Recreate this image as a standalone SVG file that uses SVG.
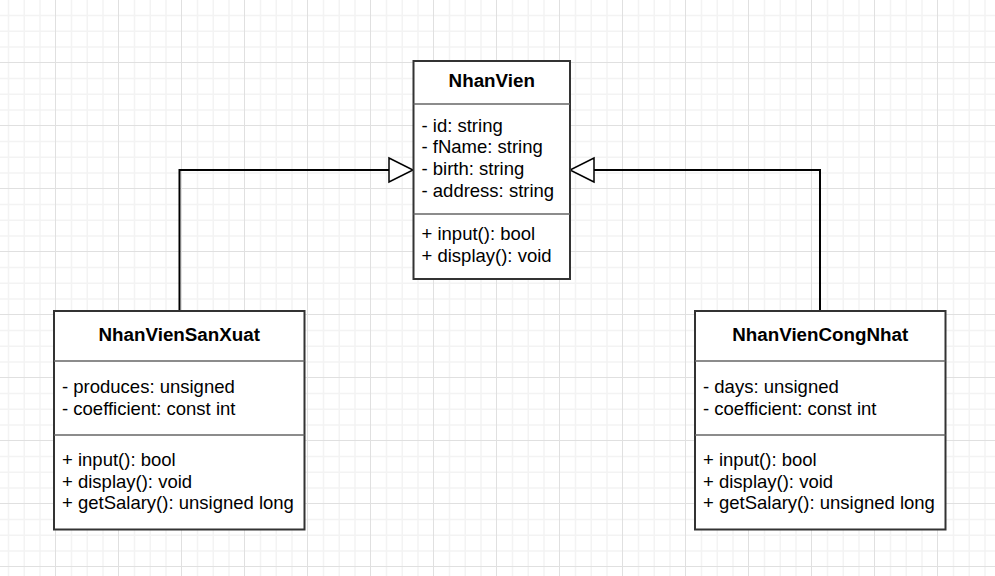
<svg xmlns="http://www.w3.org/2000/svg" width="995" height="576" viewBox="0 0 995 576">
<defs>
<pattern id="grid" x="-8" y="-1" width="63" height="63" patternUnits="userSpaceOnUse">
<rect x="0" y="0" width="63" height="63" fill="#ffffff"/>
<rect x="15.75" y="0" width="1.5" height="63" fill="#f3f3f3"/>
<rect x="31.5" y="0" width="1.5" height="63" fill="#f3f3f3"/>
<rect x="47.25" y="0" width="1.5" height="63" fill="#f3f3f3"/>
<rect x="0" y="15.75" width="63" height="1.5" fill="#f3f3f3"/>
<rect x="0" y="31.5" width="63" height="1.5" fill="#f3f3f3"/>
<rect x="0" y="47.25" width="63" height="1.5" fill="#f3f3f3"/>
<rect x="0" y="0" width="1" height="63" fill="#e0e0e0"/>
<rect x="0" y="0" width="63" height="1" fill="#e0e0e0"/>
</pattern>
<marker id="inherit" viewBox="-1 -1 26 26" refX="24" refY="12" markerWidth="26" markerHeight="26" markerUnits="userSpaceOnUse" orient="auto" overflow="visible">
<path d="M0,0 L24,12 L0,24 Z" fill="#ffffff" stroke="#000000" stroke-width="1.5"/>
</marker>
<style>
.box{fill:#ffffff;stroke:#333333;stroke-width:2}
.sep{stroke:#666666;stroke-width:1.5}
.t{font-family:"Liberation Sans",Arial,sans-serif;font-size:18.5px;fill:#000000}
.title{font-weight:bold;font-size:18.8px;text-anchor:middle}
.edge{fill:none;stroke:#000000;stroke-width:2}
</style>
</defs>
<rect x="0" y="0" width="995" height="576" fill="url(#grid)"/>
<g id="connectors">
<path class="edge" d="M179.5,311 V170 H413" marker-end="url(#inherit)"/>
<path class="edge" d="M820,311 V170 H570" marker-end="url(#inherit)"/>
</g>
<g id="NhanVien">
<rect class="box" x="413.5" y="61" width="156.5" height="218"/>
<line class="sep" x1="413.5" y1="104" x2="570" y2="104"/>
<line class="sep" x1="413.5" y1="214" x2="570" y2="214"/>
<text class="t title" x="491.75" y="87">NhanVien</text>
<text class="t" x="421.5" y="131.7">- id: string</text>
<text class="t" x="421.5" y="153.3">- fName: string</text>
<text class="t" x="421.5" y="175">- birth: string</text>
<text class="t" x="421.5" y="196.7">- address: string</text>
<text class="t" x="421.5" y="240">+ input(): bool</text>
<text class="t" x="421.5" y="261.7">+ display(): void</text>
</g>
<g id="NhanVienSanXuat">
<rect class="box" x="54" y="311" width="250.5" height="218.5"/>
<line class="sep" x1="54" y1="361" x2="304.5" y2="361"/>
<line class="sep" x1="54" y1="435" x2="304.5" y2="435"/>
<text class="t title" x="179.25" y="341">NhanVienSanXuat</text>
<text class="t" x="62" y="393">- produces: unsigned</text>
<text class="t" x="62" y="414.5">- coefficient: const int</text>
<text class="t" x="62" y="466">+ input(): bool</text>
<text class="t" x="62" y="487.5">+ display(): void</text>
<text class="t" x="62" y="509">+ getSalary(): unsigned long</text>
</g>
<g id="NhanVienCongNhat">
<rect class="box" x="695" y="311" width="250.5" height="218.5"/>
<line class="sep" x1="695" y1="361" x2="945.5" y2="361"/>
<line class="sep" x1="695" y1="435" x2="945.5" y2="435"/>
<text class="t title" x="820.25" y="341">NhanVienCongNhat</text>
<text class="t" x="703" y="393">- days: unsigned</text>
<text class="t" x="703" y="414.5">- coefficient: const int</text>
<text class="t" x="703" y="466">+ input(): bool</text>
<text class="t" x="703" y="487.5">+ display(): void</text>
<text class="t" x="703" y="509">+ getSalary(): unsigned long</text>
</g>
</svg>
